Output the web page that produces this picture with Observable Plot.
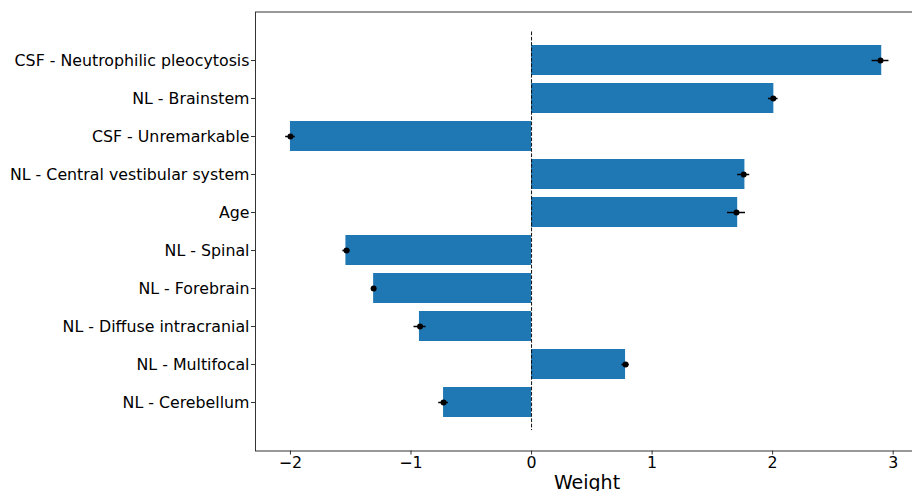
<!DOCTYPE html>
<html>
<head>
<meta charset="utf-8">
<script src="https://cdn.jsdelivr.net/npm/d3@7"></script>
<script src="https://cdn.jsdelivr.net/npm/@observablehq/plot@0.6"></script>
<style>
  html, body { margin: 0; padding: 0; background: #fff; overflow: hidden; }
  #chart { width: 912px; height: 491px; overflow: hidden; }
  #chart svg { display: block; max-width: none !important; width: 918px; height: 491px; }
</style>
</head>
<body>
<div id="chart"></div>
<script>
const features = [
  "CSF - Neutrophilic pleocytosis",
  "NL - Brainstem",
  "CSF - Unremarkable",
  "NL - Central vestibular system",
  "Age",
  "NL - Spinal",
  "NL - Forebrain",
  "NL - Diffuse intracranial",
  "NL - Multifocal",
  "NL - Cerebellum"
];
const weights = [2.905, 2.01, -2.00, 1.77, 1.71, -1.54, -1.31, -0.93, 0.78, -0.73];
const means   = [2.895, 2.005, -2.00, 1.76, 1.70, -1.535, -1.31, -0.925, 0.78, -0.73];
const errors  = [0.07, 0.04, 0.04, 0.05, 0.075, 0.03, 0.015, 0.05, 0.03, 0.04];
const xTicks = [-2, -1, 0, 1, 2, 3];
const xLabel = "Weight";

const rows = features.map((f, i) => ({feature: f, weight: weights[i], mean: means[i], err: errors[i]}));
const fmt = d => String(d).replace("-", "\u2212");

const chart = Plot.plot({
  width: 918,
  height: 491,
  marginLeft: 255,
  marginRight: 0,
  marginTop: 11.5,
  marginBottom: 40.5,
  style: {fontFamily: "DejaVu Sans", fontSize: "15.8px", color: "#000", background: "#fff"},
  x: {domain: [-2.29, 3.21], ticks: xTicks, label: null},
  y: {domain: features, paddingInner: 0.2, paddingOuter: 0.8, label: null},
  marks: [
    Plot.barX(rows, {x1: 0, x2: "weight", y: "feature", fill: "#1f77b4"}),
    Plot.ruleX([0], {stroke: "#111", strokeWidth: 1, strokeDasharray: "3.7,1.6", insetTop: 20, insetBottom: 20.5}),
    Plot.ruleY(rows, {y: "feature", x1: d => d.mean - d.err, x2: d => d.mean + d.err, stroke: "#000", strokeWidth: 1.5}),
    Plot.dot(rows, {x: "mean", y: "feature", r: 3, fill: "#000", stroke: null}),
    Plot.frame({stroke: "#333", strokeWidth: 1}),
    Plot.axisX({ticks: xTicks, tickFormat: fmt, tickSize: 4, tickPadding: 2, fontSize: 15.8, label: null, stroke: "#333"}),
    Plot.axisY({tickSize: 4, tickPadding: 2, fontSize: 15.8, label: null, stroke: "#333"}),
    Plot.text([xLabel], {frameAnchor: "bottom", lineAnchor: "bottom", dy: 38, fontSize: 19, fill: "#000"})
  ]
});
document.getElementById("chart").appendChild(chart);
</script>
</body>
</html>
